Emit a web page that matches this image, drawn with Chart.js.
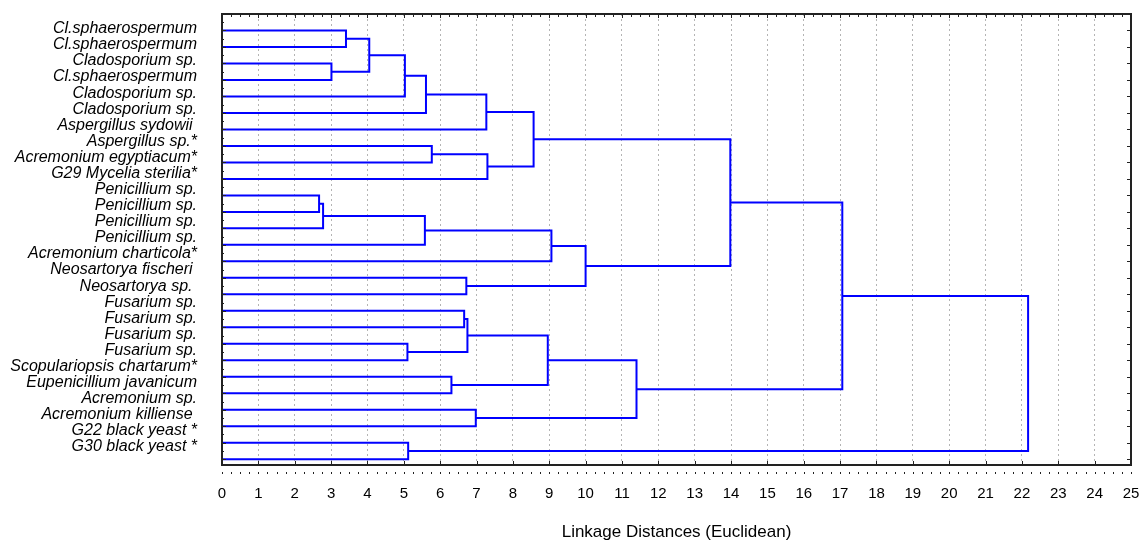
<!DOCTYPE html>
<html>
<head>
<meta charset="utf-8">
<script src="https://cdn.jsdelivr.net/npm/chart.js@4.4.1/dist/chart.umd.min.js"></script>
<style>
  body { margin: 0; background: #fff; }
  #wrap { width: 1139px; height: 541px; }
</style>
</head>
<body>
<div id="wrap"><canvas id="myChart"></canvas></div>
<script>
const leafLabels = [
  "Cl.sphaerospermum",
  "Cl.sphaerospermum",
  "Cladosporium sp.",
  "Cl.sphaerospermum",
  "Cladosporium sp.",
  "Cladosporium sp.",
  "Aspergillus sydowii ",
  "Aspergillus sp.*",
  "Acremonium egyptiacum*",
  "G29 Mycelia sterilia*",
  "Penicillium sp.",
  "Penicillium sp.",
  "Penicillium sp.",
  "Penicillium sp.",
  "Acremonium charticola*",
  "Neosartorya fischeri ",
  "Neosartorya sp. ",
  "Fusarium sp.",
  "Fusarium sp.",
  "Fusarium sp.",
  "Fusarium sp.",
  "Scopulariopsis chartarum*",
  "Eupenicillium javanicum",
  "Acremonium sp.",
  "Acremonium killiense ",
  "G22 black yeast *",
  "G30 black yeast *",
];

// leaves are 0..26, every merge makes a new cluster id starting at 27
const mergePairs = [
  [10, 11], [27, 12], [2, 3], [0, 1], [30, 29], [31, 4], [19, 20], [25, 26],
  [28, 13], [32, 5], [7, 8], [21, 22], [17, 18], [15, 16], [39, 33], [23, 24],
  [36, 6], [37, 9], [43, 44], [41, 38], [35, 14], [47, 40], [46, 42], [45, 48],
  [50, 49], [51, 34],
];
const mergeHeights = [
  2.67, 2.78, 3.01, 3.41, 4.05, 5.03, 5.10, 5.12,
  5.58, 5.61, 5.77, 6.31, 6.66, 6.72, 6.75, 6.98,
  7.27, 7.30, 8.57, 8.96, 9.06, 10.0, 11.40, 13.98,
  17.06, 22.17,
];

const distanceTicks = [0, 1, 2, 3, 4, 5, 6, 7, 8, 9, 10, 11, 12, 13, 14, 15, 16, 17, 18, 19, 20, 21, 22, 23, 24, 25];

Chart.defaults.font.family = '"Liberation Sans", Arial, sans-serif';
Chart.defaults.color = "#000";

// build the U shaped links of the tree
const nodeY = leafLabels.map((_, i) => i + 1);
const nodeH = leafLabels.map(() => 0);
const datasets = [];
mergePairs.forEach(([a, b], i) => {
  const h = mergeHeights[i];
  datasets.push({
    data: [
      { x: nodeH[a], y: nodeY[a] },
      { x: h, y: nodeY[a] },
      { x: h, y: nodeY[b] },
      { x: nodeH[b], y: nodeY[b] },
    ],
    borderColor: "#0000ff",
    borderWidth: 2,
    pointRadius: 0,
    fill: false,
    tension: 0,
  });
  nodeY.push((nodeY[a] + nodeY[b]) / 2);
  nodeH.push(h);
});

// frame plus the small tick marks round the plot
const frameTicks = {
  id: "frameTicks",
  afterDraw: (chart) => {
    const { ctx, chartArea: a } = chart;
    const x = chart.scales.x;
    const y = chart.scales.y;
    ctx.save();
    ctx.strokeStyle = "#222";
    ctx.lineWidth = 1;
    ctx.beginPath();
    for (let v = 0; v <= 25; v += 0.25) {
      const px = Math.round(x.getPixelForValue(v)) + 0.5;
      ctx.moveTo(px, a.top);
      ctx.lineTo(px, a.top + (v % 1 === 0 ? 4 : 3));
      ctx.moveTo(px, a.bottom + 7);
      ctx.lineTo(px, a.bottom + 9);
    }
    distanceTicks.forEach((v) => {
      const px = Math.round(x.getPixelForValue(v)) + 0.5;
      ctx.moveTo(px, a.bottom);
      ctx.lineTo(px, a.bottom - 4);
    });
    for (let i = 0; i <= leafLabels.length; i += 0.5) {
      const py = Math.round(y.getPixelForValue(i)) + 0.5;
      const len = i % 1 === 0 ? 4 : 2;
      ctx.moveTo(a.left, py);
      ctx.lineTo(a.left + len, py);
      if (i % 1 === 0) {
        ctx.moveTo(a.right, py);
        ctx.lineTo(a.right - 4, py);
      }
    }
    ctx.stroke();
    ctx.lineWidth = 2;
    ctx.strokeRect(a.left, a.top, a.right - a.left, a.bottom - a.top);
    ctx.restore();
  },
};

new Chart(document.getElementById("myChart"), {
  type: "line",
  data: { datasets: datasets },
  options: {
    responsive: true,
    maintainAspectRatio: false,
    animation: false,
    layout: { padding: { top: 14, right: 8, left: 0, bottom: 0 } },
    plugins: {
      legend: { display: false },
      tooltip: { enabled: false },
    },
    scales: {
      x: {
        type: "linear",
        min: 0,
        max: 25,
        afterBuildTicks: (scale) => {
          scale.ticks = distanceTicks.map((v) => ({ value: v }));
        },
        afterFit: (scale) => {
          scale.height = 76;
          scale.paddingLeft = 0;
          scale.paddingRight = 0;
        },
        ticks: { padding: 20, font: { size: 15 }, color: "#000", maxRotation: 0 },
        grid: {
          drawTicks: false,
          lineWidth: 1,
          color: (c) =>
            c.tick && (c.tick.value === 0 || c.tick.value === 25) ? "rgba(0,0,0,0)" : "#b4b4b4",
        },
        border: { display: false, dash: [2, 3] },
        title: {
          display: true,
          text: "Linkage Distances (Euclidean)",
          font: { size: 17, lineHeight: 1 },
          padding: 0,
          color: "#000",
        },
      },
      y: {
        type: "linear",
        display: false,
        reverse: true,
        min: 0,
        max: 27.35,
      },
      yl: {
        type: "linear",
        position: "left",
        reverse: true,
        min: 0.086,
        max: 28.12,
        afterBuildTicks: (scale) => {
          scale.ticks = leafLabels.map((_, i) => ({ value: i + 1 }));
        },
        afterFit: (scale) => {
          scale.width = 222;
          scale.paddingTop = 0;
          scale.paddingBottom = 0;
        },
        ticks: {
          autoSkip: false,
          padding: 25,
          color: "#000",
          font: { size: 16, style: "italic" },
          callback: (v) => leafLabels[v - 1],
        },
        grid: { display: false, drawTicks: false },
        border: { display: false },
      },
    },
  },
  plugins: [frameTicks],
});
</script>
</body>
</html>
